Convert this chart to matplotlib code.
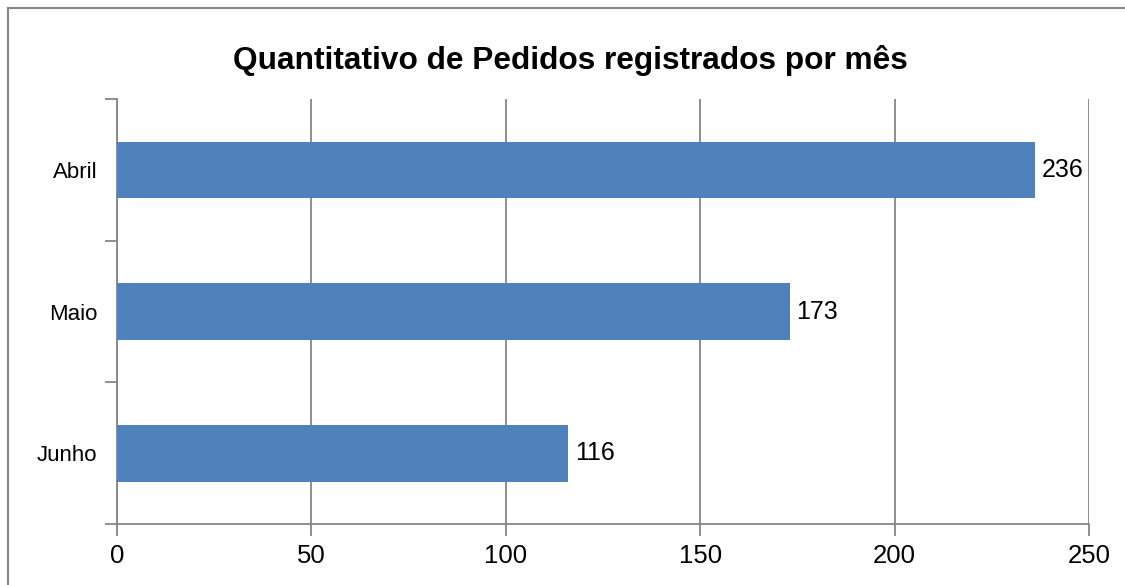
import numpy as np
import matplotlib.pyplot as plt
from matplotlib.patches import Rectangle

plt.rcParams['font.family'] = ['Liberation Sans', 'DejaVu Sans']

meses = ['Junho', 'Maio', 'Abril']
pedidos = [116, 173, 236]
xticks = [0, 50, 100, 150, 200, 250]

cinza = '#868686'
azul = '#4F81BD'

fig = plt.figure(figsize=(11.25, 5.85), dpi=100)
ax = fig.add_axes([117/1125, 1 - 524/585, (1089 - 117)/1125, (524 - 99)/585])

pos = np.arange(len(meses))
barras = ax.barh(pos, pedidos, height=0.4, color=azul, zorder=3)
ax.bar_label(barras, labels=[str(v) for v in pedidos], padding=5, fontsize=18)

ax.set_xlim(0, 250)
ax.set_ylim(-0.5, len(meses) - 0.5)
ax.set_xticks(xticks)
ax.tick_params(axis='x', direction='out', length=8.6, width=1.3, color=cinza,
               labelsize=18.5, pad=6)
ax.grid(axis='x', color=cinza, linewidth=1.3, zorder=0)

# ticks nos limites das categorias, rótulos no meio
ax.set_yticks(np.arange(-0.5, len(meses), 1.0))
ax.set_yticklabels([])
ax.tick_params(axis='y', which='major', direction='out', length=8.6, width=1.3, color=cinza)
ax.set_yticks(pos, minor=True)
ax.set_yticklabels(meses, minor=True)
ax.tick_params(axis='y', which='minor', length=0, labelsize=16, pad=14)

for s in ['top', 'right']:
    ax.spines[s].set_visible(False)
for s in ['left', 'bottom']:
    ax.spines[s].set_color(cinza)
    ax.spines[s].set_linewidth(1.3)

fig.text(570/1125, 1 - 61/585, 'Quantitativo de Pedidos registrados por mês',
         ha='center', va='center', fontsize=22.8, fontweight='bold')

fig.add_artist(Rectangle((7.5/1125, -0.1), 1.2, 1 - 8/585 + 0.1, transform=fig.transFigure,
                         fill=False, edgecolor=cinza, linewidth=1.5))

fig.savefig('out.png', dpi=100)
